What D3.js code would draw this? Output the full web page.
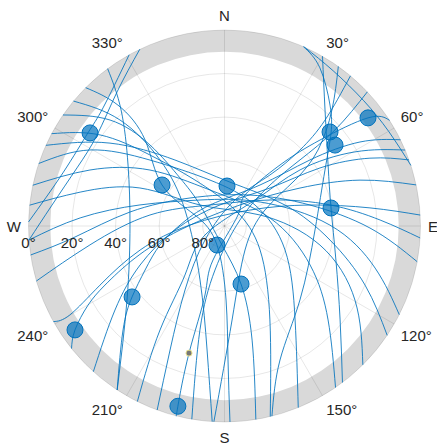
<!DOCTYPE html>
<html><head><meta charset="utf-8">
<script src="https://cdn.jsdelivr.net/npm/d3@7"></script>
<style>body{margin:0;background:#fff}svg{display:block}</style>
</head><body><svg id="c" width="437" height="446"></svg>
<script>
const azTicks=[0,30,60,90,120,150,180,210,240,270,300,330];
const azLabels=["N","30°","60°","E","120°","150°","S","210°","240°","W","300°","330°"];
const elTicks=[0,20,40,60,80];
const elLabels=["0°","20°","40°","60°","80°"];
const maskElevation=10;

// satellite tracks: [azimuth, elevation] in degrees
const trackN1=[[330.9,0],[314.2,12.2],[304.3,14.1],[288.2,11.9],[271.2,0]];
const trackN2=[[334.4,0],[321.3,11.1],[305.5,18.1],[291.5,17.2],[276.9,10.2],[265.9,0]];
const trackN3=[[323.4,0],[318.3,18.6],[302.3,37.6],[270.6,46.6],[232.8,33.8],[213.2,0]];
const trackL1=[[314.9,0],[318.6,16.0],[317.3,36.2],[303.3,55.7],[290.4,75.5],[201.5,80.6],[178.8,56],[178.5,28.5],[178.4,0]];
const trackL2=[[304.5,0],[312.8,18.4],[317.4,39.5],[317.2,59.9],[310.6,75.2],[187.5,81.2],[164.1,62.3],[166.4,36.1],[170.8,0]];
const trackL3=[[298.1,0],[306.2,19.2],[313.6,42.7],[327.3,64.9],[33.3,81.2],[124,70.3],[154.2,42.1],[166.5,0]];
const trackL4=[[288.6,0],[299.5,19.1],[311.5,44.3],[342.5,67.9],[55.5,73],[111.6,60.1],[143.1,36],[157.9,0]];
const trackL5=[[282,0],[292.6,23.1],[306.9,47.2],[338.1,72.2],[80,68.8],[114.5,46.8],[132.2,25.8],[145.5,0]];
const trackL6=[[276.1,0],[283.2,21.9],[294.2,47.4],[310.6,75.2],[72.8,72.9],[101.3,45.3],[119.6,21.1],[135.1,0]];
const trackL7=[[265.9,0],[273.2,23.6],[284,50],[316.7,73.6],[56,70.3],[89.5,41.6],[105.6,18.2],[116.9,0]];
const trackL8=[[253.7,0],[262,27.6],[278.4,55.4],[325.4,78.3],[60.3,65.9],[78.7,40.6],[87.8,18.5],[93.5,0]];
const trackL9=[[294.3,0],[305.9,25.1],[323.1,52.1],[7.1,69.7],[70.9,60.6],[97.6,41.1],[112.8,20],[123.9,0]];
const trackL10=[[309.6,0],[315.4,21.6],[315.7,47.6],[292.1,70.4],[204.4,62.8],[188,32.5],[183.6,0]];
const trackR1=[[23.7,0],[31.1,5.2],[41.1,16.3],[48.9,25.1],[60.9,37.2],[92.5,48.4],[134.4,41.5],[157.5,23.4],[166,0]];
const trackR2=[[30,0],[40.9,19.5],[59.5,34.8],[80.4,40.4],[107,36.5],[129.1,21.6],[143,0]];
const trackR3=[[35.5,0],[42.8,17.4],[50.9,34.7],[56.9,51.3],[68.4,70],[139.5,75.5],[175.4,46.7],[183.1,0]];
const trackR4=[[46.8,0],[49,22.8],[48.8,43.9],[48,61.9],[68.8,82.4],[192.2,69.3],[193.3,41],[189.6,0]];
const trackR5=[[57.4,0],[53,7.5],[48,31],[42.3,52.1],[33.5,72.9],[50.8,82],[198.7,73.5],[195.8,57.1],[195.6,29.4],[194.5,4.5],[194.2,0]];
const trackR6=[[63.9,0],[58.2,16.8],[52.3,40.4],[40.9,65.1],[325.4,78.3],[271.3,69.6],[253.6,59.1],[241,48.3],[232.5,36.5],[224.3,23.3],[213.2,0]];
const trackR7=[[70.3,0],[65,16.3],[58.7,38.7],[50.1,62.8],[347.9,80.1],[265.4,67.2],[245.2,47.3],[232.5,26.6],[222,0]];
const trackR8=[[77.9,0],[71.3,24.3],[63.3,51.2],[36.4,78],[264.9,69.5],[250.3,46.4],[243.7,28.8],[239.9,17.6],[235.2,6.4],[231.3,0]];
const trackR9=[[86.8,0],[82.9,22.7],[76.2,49.6],[57.9,76.2],[271.7,74.2],[254.1,49.7],[244.6,26.7],[240.1,8.1],[240.8,0]];
const trackR10=[[100.5,0],[90.8,23.2],[76.2,49.6],[39.4,71.6],[309.1,69.6],[278.4,46.1],[265.8,21.2],[261.5,0]];
const trackR11=[[67.2,0],[60.4,21.1],[53.4,46.8],[49.6,71.6],[245.2,80.1],[218.9,61.1],[211.8,33.8],[206.4,0]];
const trackR12=[[40,0],[43.5,22.9],[44.8,40.8],[41.7,58.6],[22,77.1],[234.3,79],[211.7,55.5],[203.7,27.8],[200.1,0]];
const trackE1=[[24,0],[35,3],[48,4],[60,3],[72,0]];

const satAz=[304.7,303.3,3.6,201.5,164.1,232.5,235.2,194.5,53.0,48.3,53.8,80.4];
const satEl=[14.9,55.7,71.6,80.6,62.3,36.5,6.4,4.5,7.5,25.1,27.1,40.4];
const userAz=[195.6];
const userEl=[29.4];

const tracks=[trackN1,trackN2,trackN3,trackL1,trackL2,trackL3,trackL4,trackL5,trackL6,trackL7,trackL8,trackL9,trackL10,
  trackR1,trackR2,trackR3,trackR4,trackR5,trackR6,trackR7,trackR8,trackR9,trackR10,trackR11,trackR12,trackE1];

const cx=224.5, cy=226, R=196;
const svg=d3.select("#c");
const rScale=d3.scaleLinear().domain([90,0]).range([0,R]);
const proj=(az,el)=>{const a=az*Math.PI/180, r=rScale(el); return [cx+r*Math.sin(a), cy-r*Math.cos(a)];};
const font='"Liberation Sans", Arial, Helvetica, sans-serif';

// mask ring
const ring=d3.arc().innerRadius(rScale(maskElevation)).outerRadius(rScale(0)).startAngle(0).endAngle(2*Math.PI);
svg.append("path").attr("d",ring()).attr("transform",`translate(${cx},${cy})`).attr("fill","#d9d9d9");

// grid
const grid=svg.append("g").attr("fill","none").attr("stroke","#000").attr("stroke-opacity",0.11).attr("stroke-width",0.9);
elTicks.forEach(e=>grid.append("circle").attr("cx",cx).attr("cy",cy).attr("r",rScale(e)));
azTicks.forEach(a=>{const p=proj(a,0); grid.append("line").attr("x1",cx).attr("y1",cy).attr("x2",p[0]).attr("y2",p[1]);});

// tracks
const line=d3.line().x(d=>proj(d[0],d[1])[0]).y(d=>proj(d[0],d[1])[1]).curve(d3.curveNatural);
svg.append("g").selectAll("path").data(tracks).join("path")
  .attr("d",line).attr("fill","none").attr("stroke","#0072BD").attr("stroke-width",1).attr("stroke-opacity",0.85);

// satellites
svg.append("g").selectAll("circle").data(satAz.map((a,i)=>[a,satEl[i]])).join("circle")
  .attr("cx",d=>proj(d[0],d[1])[0]).attr("cy",d=>proj(d[0],d[1])[1]).attr("r",8)
  .attr("fill","#0072BD").attr("fill-opacity",0.7).attr("stroke","#0072BD").attr("stroke-width",1);

// receiver-side marker
svg.append("g").selectAll("circle").data(userAz.map((a,i)=>[a,userEl[i]])).join("circle")
  .attr("cx",d=>proj(d[0],d[1])[0]).attr("cy",d=>proj(d[0],d[1])[1]).attr("r",3)
  .attr("fill","#777").attr("stroke","#e6e08a").attr("stroke-width",1);

// azimuth labels: anchored just outside the rim, aligned away from the centre
const Ra=203.5;
azTicks.forEach((a,i)=>{
  const t=svg.append("text").text(azLabels[i]).attr("font-family",font).attr("font-size",15).attr("fill","#262626")
    .attr("text-anchor","middle").attr("dominant-baseline","central");
  const w=t.node().getComputedTextLength(), hh=7.5;
  const rad=a*Math.PI/180, s=Math.sin(rad), c=Math.cos(rad);
  const sx=Math.abs(s)<1e-6?0:Math.sign(s), sy=Math.abs(c)<1e-6?0:Math.sign(c);
  t.attr("x",cx+Ra*s+sx*w/2).attr("y",cy-Ra*c-sy*hh);
});

// elevation labels
elTicks.forEach((e,i)=>{
  svg.append("text").text(elLabels[i]).attr("font-family",font).attr("font-size",15).attr("fill","#262626")
    .attr("text-anchor","middle").attr("x",cx-rScale(e)).attr("y",cy+22);
});
</script></body></html>
